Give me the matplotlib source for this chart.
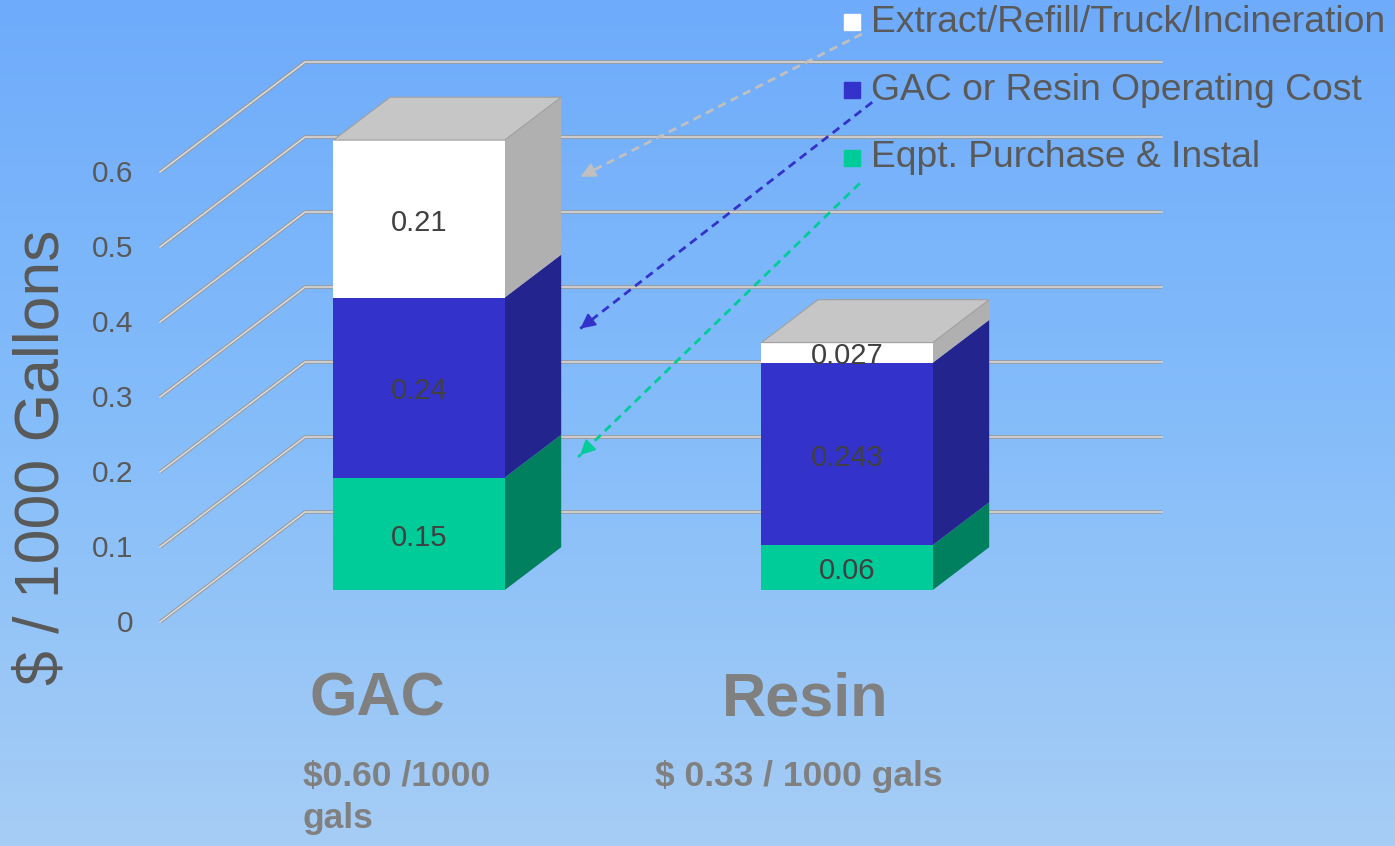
import matplotlib.pyplot as plt
import numpy as np
from matplotlib import font_manager
from matplotlib.colors import LinearSegmentedColormap

# data
categories = ['GAC', 'Resin']
subtitles = ['$0.60 /1000\ngals', '$ 0.33 / 1000 gals']
series_names = ['Eqpt. Purchase & Instal', 'GAC or Resin Operating Cost',
                'Extract/Refill/Truck/Incineration']
equipment = [0.15, 0.06]
operating = [0.24, 0.243]
extract = [0.21, 0.027]
yticks = [0, 0.1, 0.2, 0.3, 0.4, 0.5, 0.6]

front_cols = ['#00cc99', '#3333cc', '#ffffff']
side_cols = ['#00805f', '#24248e', '#b0b0b0']
top_col = '#c6c6c6'

# pseudo-3d geometry (oblique projection)
PXX, PXY = 428.0, 750.0
kx, ky = 145 / PXX, 110 / PXY
zf, zb = 0.29, 0.68
w = 0.4
xpos = np.arange(len(categories))

names = [f.name for f in font_manager.fontManager.ttflist]
narrow = 'Liberation Sans Narrow' if 'Liberation Sans Narrow' in names else 'Liberation Sans'
plt.rcParams['font.family'] = ['Liberation Sans', 'DejaVu Sans']

fig = plt.figure(figsize=(13.95, 8.46), dpi=100)
ax = fig.add_axes([0, 0, 1, 1])
x0 = 377.0
ax.set_xlim(-x0 / PXX, (1395 - x0) / PXX)
ax.set_ylim(-224 / PXY, (846 - 224) / PXY)
ax.axis('off')

cmap = LinearSegmentedColormap.from_list('bg', ['#6eabfb', '#85bdfa', '#a6cdf5'])
ax.imshow(np.linspace(0, 1, 256).reshape(-1, 1), cmap=cmap, aspect='auto',
          extent=[*ax.get_xlim(), *ax.get_ylim()], origin='upper', zorder=0)

def P(x, y, z):
    return x + z * kx, y + z * ky

# walls / grid
xl, xr = -0.507, 1.495
for t in yticks:
    a = P(xl, t, 0); b = P(xl, t, 1); c = P(xr, t, 1)
    xs, ys = [a[0], b[0], c[0]], [a[1], b[1], c[1]]
    ax.plot(xs, ys, color='#9a9a9a', lw=2.6, zorder=1, solid_capstyle='butt')
    ax.plot(xs, ys, color='#dcdcdc', lw=1.1, zorder=1.1)
    ax.text(-0.570, t - 0.003, f'{t:g}', ha='right', va='center', fontsize=21.5,
            color='#595959', zorder=2)

# bars
stack = [equipment, operating, extract]
bottoms = np.zeros(len(categories))
for s, vals in enumerate(stack):
    vals = np.array(vals)
    ax.bar(xpos + zf * kx, vals, bottom=bottoms + zf * ky, width=w,
           color=front_cols[s], zorder=5, linewidth=0)
    for i in range(len(categories)):
        xr_ = xpos[i] + w / 2
        b0, b1 = bottoms[i], bottoms[i] + vals[i]
        pts = [P(xr_, b0, zf), P(xr_, b0, zb), P(xr_, b1, zb), P(xr_, b1, zf)]
        ax.add_patch(plt.Polygon(pts, closed=True, facecolor=side_cols[s],
                                 edgecolor='none', zorder=4))
        lab = f'{vals[i]:g}'
        cx, cy = P(xpos[i], (b0 + b1) / 2, zf)
        ax.text(cx, cy - 0.005, lab, ha='center', va='center', fontsize=21,
                color='#404040', zorder=7)
    bottoms = bottoms + vals

for i in range(len(categories)):
    t = bottoms[i]
    xa, xb = xpos[i] - w / 2, xpos[i] + w / 2
    pts = [P(xa, t, zf), P(xb, t, zf), P(xb, t, zb), P(xa, t, zb)]
    ax.add_patch(plt.Polygon(pts, closed=True, facecolor=top_col,
                             edgecolor='#a0a0a0', lw=0.8, zorder=6))

# category labels
for i, c in enumerate(categories):
    ax.text(xpos[i], -0.104, c, ha='center', va='center', fontsize=44,
            fontweight='bold', color='#808080', zorder=3)
ax.text(-0.173, -0.184, subtitles[0], ha='left', va='top', fontsize=25.5,
        fontweight='bold', color='#808080', family=narrow, linespacing=1.35)
ax.text(0.65, -0.184, subtitles[1], ha='left', va='top', fontsize=25.5,
        fontweight='bold', color='#808080', family=narrow)

ax.text(-0.783, 0.22, '$ / 1000 Gallons', rotation=90, ha='center', va='center',
        fontsize=45, color='#595959')

# legend (top-down order)
leg_y = [0.800, 0.709, 0.619]
order = [2, 1, 0]
for y, s in zip(leg_y, order):
    ax.plot(1.110, y, marker='s', markersize=12, color=front_cols[s],
            linestyle='none', zorder=8)
    ax.text(1.154, y, series_names[s], ha='left', va='center', fontsize=26.8,
            color='#595959', zorder=8)

# dashed pointer arrows from legend to GAC bar
arrow_from = [(1.133, 0.784), (1.157, 0.693), (1.128, 0.585)]
arrow_to = [(0.470, 0.592), (0.470, 0.389), (0.470, 0.220)]
arrow_cols = ['#c0c0c0', '#3333cc', '#00cc99']
for (x1, y1), (x2, y2), c in zip(arrow_from, arrow_to, arrow_cols):
    ax.plot([x1, x2], [y1, y2], color=c, lw=2, linestyle=(0, (3, 2)), zorder=8)
    dx, dy = x2 - x1, y2 - y1
    ax.annotate('', xy=(x2, y2), xytext=(x2 - dx * 0.03, y2 - dy * 0.03),
                arrowprops=dict(arrowstyle='-|>', color=c, lw=1.5,
                                mutation_scale=22), zorder=8)

fig.savefig('out.png', dpi=100)
